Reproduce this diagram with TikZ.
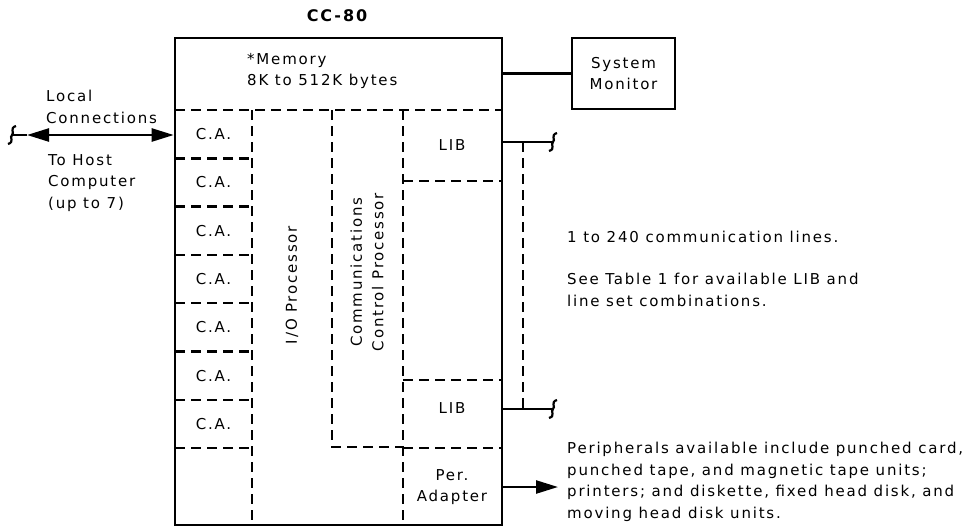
\documentclass[tikz,border=0pt]{standalone}
\usepackage{fontspec}
\setmainfont[LetterSpace=12]{DejaVu Sans}
\usetikzlibrary{arrows.meta,positioning}

\tikzset{
  cut/.pic={\draw[line width=2.2pt] (4,-9) .. controls (-3,-7) and (3,-2) .. (0,0) .. controls (-3,2) and (3,7) .. (-4,9);},
}

\begin{document}
\begin{tikzpicture}[x=1pt,y=-1pt,
  box/.style={draw,line width=2.6pt,inner sep=0pt},
  part/.style={dash pattern=on 10pt off 6pt,line width=2.4pt},
  wire/.style={line width=2.4pt},
  lbl/.style={inner sep=0pt,font=\fontsize{15}{21.5}\selectfont},
  >={Triangle[length=22pt,width=13pt]},
]
\useasboundingbox (0,0) rectangle (972,531);

% cc-80 frame
\node[box,minimum width=327pt,minimum height=487pt] (cc) at (338.5,281.5) {};
\node[lbl,font=\fontsize{16}{18}\selectfont\bfseries] (title) at (337,16) {CC-80};

% memory
\node[lbl,anchor=west,align=left] (mem) at (247,71) {*Memory\\8K to 512K bytes};
\draw[part] (175,110) -- (502,110);

% channel adapters
\foreach \i in {1,...,7}
\node[lbl] (ca\i) at (213.5,{110+48.3*(\i-0.5)}) {C.A.};
\foreach \i in {1,...,7}
\draw[part] (175,{110+48.3*\i}) -- (252,{110+48.3*\i});
\draw[part] (252,110) -- (252,525);

% processors
\draw[part] (332,110) -- (332,447) -- (403,447);
\node[lbl,rotate=90] (iop) at (292,285) {I/O Processor};
\node[lbl,rotate=90,align=center] (ccp) at (367,272) {Communications\\Control Processor};

% line interface buffers
\draw[part] (403,110) -- (403,525);
\foreach \y in {181,380,448}
\draw[part] (403,\y) -- (502,\y);
\node[lbl] (lib1) at (452,145) {LIB};
\node[lbl] (lib2) at (452,408) {LIB};
\node[lbl,align=center] (pad) at (452,487) {Per.\\Adapter};

% communication lines
\coordinate (l1) at (553,142);
\coordinate (l2) at (553,409);
\draw[wire] (l1 -| cc.east) -- (l1) pic {cut};
\draw[wire] (l2 -| cc.east) -- (l2) pic {cut};
\draw[part] (523,142) -- (523,409);

% system monitor
\node[box,minimum width=103pt,minimum height=71pt,align=center,font=\fontsize{15}{21.5}\selectfont] (sysmon) at (623.5,73.5) {System\\Monitor};
\draw[wire] (sysmon.west) -- (sysmon.west -| cc.east);

% host side
\coordinate (hostend) at (12,135);
\coordinate (hosttip) at (27,135);
\draw[wire] (hostend) pic {cut} -- (hosttip);
\draw[wire,<->] (hosttip) -- (hosttip -| cc.west);
\node[lbl,anchor=west,align=left] (local) at (46,107) {Local\\Connections};
\node[lbl,anchor=west,align=left] (host) at (48,183) {To Host\\Computer\\(up to 7)};

% notes
\node[lbl,anchor=west] (nlines) at (567,237) {1 to 240 communication lines.};
\node[lbl,anchor=west,align=left] (ntable) at (567,290) {See Table 1 for available LIB and\\line set combinations.};
\node[lbl,anchor=west,align=left] (nper) at (567,482) {Peripherals available include punched card,\\punched tape, and magnetic tape units;\\printers; and diskette, fixed head disk, and\\moving head disk units.};
\coordinate (perend) at (558,487);
\draw[wire,->] (perend -| cc.east) -- (perend);

\end{tikzpicture}
\end{document}
